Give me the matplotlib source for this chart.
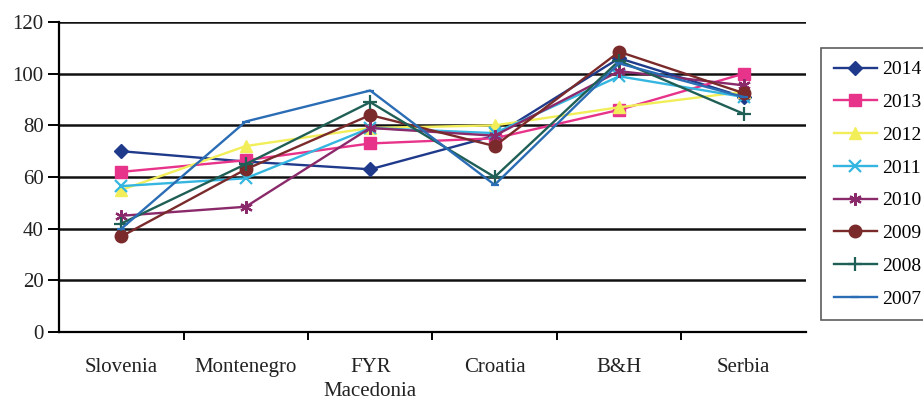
import numpy as np
import matplotlib
matplotlib.use("Agg")
import matplotlib.pyplot as plt
from matplotlib.ticker import FixedLocator

plt.rcParams['font.family'] = ['Liberation Serif', 'DejaVu Serif']

countries = ["Slovenia", "Montenegro", "FYR\nMacedonia", "Croatia", "B&H", "Serbia"]
years = ["2014", "2013", "2012", "2011", "2010", "2009", "2008", "2007"]

v2014 = [70, 66, 63, 76, 106, 91]
v2013 = [62, 66.5, 73, 75, 86, 100]
v2012 = [55, 72, 79, 80, 87, 93]
v2011 = [56.5, 59.5, 79, 77, 99, 91]
v2010 = [45, 48.5, 79, 76, 101, 95.5]
v2009 = [37, 63, 84, 72, 108.5, 92.5]
v2008 = [42, 65, 89, 60, 105, 84.5]
v2007 = [40, 81.5, 93.5, 57, 104, 91]
series = [v2014, v2013, v2012, v2011, v2010, v2009, v2008, v2007]

colors = ['#1f3a8a', '#e8338a', '#f2ee5a', '#35b6e0', '#8a2a6a', '#7a2a2a', '#1f5f55', '#2a6db5']
markers = ['D', 's', '^', 'x', (6, 2, 0), 'o', '+', '_']
msizes = [7, 8, 8, 8, 9, 9, 10, 6]

fig = plt.figure(figsize=(9.23, 4.01), dpi=100)
ax = fig.add_axes([0.064, 0.172, 0.809, 0.773])

x = np.arange(len(countries))
for vals, yr, c, m, ms in zip(series, years, colors, markers, msizes):
    ax.plot(x, vals, color=c, marker=m, markersize=ms, linewidth=1.7,
            markeredgewidth=1.6 if m in ('x', '+', '_') or isinstance(m, tuple) else 1,
            markeredgecolor=c, label=yr)

ax.set_xlim(-0.5, len(countries) - 0.5)
ax.set_ylim(0, 120)
ax.set_yticks(range(0, 121, 20))
ax.yaxis.grid(True, color='#111111', linewidth=1.8)
ax.set_axisbelow(True)

ax.set_xticks(x)
ax.set_xticklabels(countries, fontsize=15, color='#222222', linespacing=1.3)
ax.tick_params(axis='x', length=0, pad=19)
ax.xaxis.set_minor_locator(FixedLocator(np.arange(0.5, len(countries) - 0.5, 1)))
ax.tick_params(axis='x', which='minor', length=6, width=1.4, direction='out')
ax.tick_params(axis='y', length=8, width=1.4, direction='out', labelsize=15,
               labelcolor='#222222', pad=3)

for s in ['top', 'right']:
    ax.spines[s].set_visible(False)
ax.spines['left'].set_linewidth(1.6)
ax.spines['bottom'].set_linewidth(1.6)

leg = fig.legend(loc='upper left', bbox_to_anchor=(0.89, 0.88), frameon=True,
                 fancybox=False, edgecolor='#333333', fontsize=14,
                 handlelength=2.2, labelspacing=0.78, borderpad=0.65,
                 borderaxespad=0, handletextpad=0.25)
leg.get_frame().set_linewidth(1.2)

fig.savefig("out.png", dpi=100)
